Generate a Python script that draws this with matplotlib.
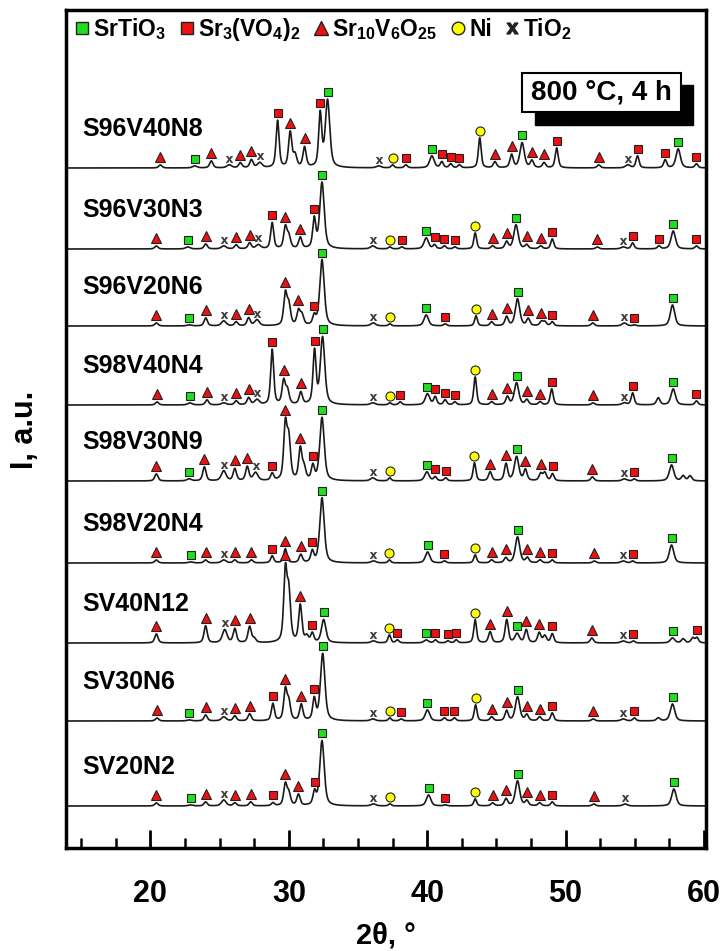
import numpy as np
import matplotlib.pyplot as plt
from matplotlib.lines import Line2D
from matplotlib.patches import Rectangle

plt.rcParams['font.family'] = ['Liberation Sans', 'DejaVu Sans']
plt.rcParams['font.weight'] = 'bold'
plt.rcParams['mathtext.fontset'] = 'custom'
plt.rcParams['mathtext.rm'] = 'Liberation Sans:bold'
plt.rcParams['mathtext.it'] = 'Liberation Sans:bold'
plt.rcParams['mathtext.bf'] = 'Liberation Sans:bold'

# phases: G SrTiO3, R Sr3(VO4)2, T Sr10V6O25, N Ni, X TiO2, '' = unlabelled
samples = ['S96V40N8', 'S96V30N3', 'S96V20N6', 'S98V40N4', 'S98V30N9',
           'S98V20N4', 'SV40N12', 'SV30N6', 'SV20N2']
offsets = [680, 599, 522, 443, 367, 285, 205, 127, 42]

# (2theta, peak height, phase)
peaks_S96V40N8 = [(20.72, 3, 'T'), (23.2, 2, 'G'), (24.4, 7, 'T'), (25.7, 3, 'X'), (26.5, 5, 'T'),
                  (27.3, 8, 'T'), (27.9, 5, 'X'), (29.19, 47, 'R'), (30.1, 35, 'T'), (30.45, 12, ''),
                  (31.14, 20, 'T'), (32.27, 53, 'R'), (32.8, 67, 'G'), (36.5, 2, 'X'), (37.5, 3, 'N'),
                  (38.46, 3, 'R'), (40.34, 12, 'G'), (41.06, 6, 'R'), (41.7, 4, 'R'), (42.33, 3, 'R'),
                  (43.8, 30, 'N'), (44.9, 6, 'T'), (46.1, 13, 'T'), (46.86, 25, 'G'), (47.57, 7, 'T'),
                  (48.45, 5, 'T'), (49.36, 20, 'R'), (52.4, 3, 'T'), (54.5, 3, 'X'), (55.2, 12, 'R'),
                  (57.2, 8, 'R'), (58.14, 19, 'G'), (59.46, 4, 'R')]
peaks_S96V30N3 = [(20.43, 3, 'T'), (22.7, 2, 'G'), (24.0, 5, 'T'), (25.3, 3, 'X'), (26.2, 4, 'T'),
                  (27.17, 6, 'T'), (27.8, 4, 'X'), (28.8, 26, 'R'), (29.75, 21, 'T'), (30.0, 12, ''),
                  (30.83, 11, 'T'), (31.84, 29, 'R'), (32.4, 66, 'G'), (36.07, 3, 'X'), (37.3, 2, 'N'),
                  (38.17, 2, 'R'), (39.93, 11, 'G'), (40.53, 4, 'R'), (41.25, 3, 'R'), (42.0, 2, 'R'),
                  (43.47, 16, 'N'), (44.73, 3, 'T'), (45.74, 7, 'T'), (46.42, 24, 'G'), (47.19, 4, 'T'),
                  (48.2, 3, 'T'), (49.04, 10, 'R'), (52.3, 2, 'T'), (54.17, 2, 'X'), (54.85, 6, 'R'),
                  (56.75, 3, 'R'), (57.78, 18, 'G'), (59.46, 3, 'R')]
peaks_S96V20N6 = [(20.43, 3, 'T'), (22.8, 1, 'G'), (24.0, 8, 'T'), (25.3, 5, 'X'), (26.2, 4, 'T'),
                  (27.1, 8, 'T'), (27.7, 6, 'X'), (29.75, 31, 'T'), (30.0, 20, ''), (30.7, 14, 'T'),
                  (30.95, 10, ''), (31.84, 9, 'R'), (32.4, 66, 'G'), (36.1, 3, 'X'), (37.3, 2, 'N'),
                  (39.93, 11, 'G'), (41.3, 2, 'R'), (43.53, 10, 'N'), (44.66, 4, 'T'), (45.74, 9, 'T'),
                  (46.53, 27, 'G'), (47.3, 7, 'T'), (48.25, 4, 'T'), (48.5, 4, ''), (49.04, 4, 'R'),
                  (51.96, 3, 'T'), (54.25, 3, 'X'), (54.97, 1, 'R'), (57.73, 21, 'G')]
peaks_S98V40N4 = [(20.48, 3, 'T'), (22.85, 2, 'G'), (24.09, 5, 'T'), (25.3, 2, 'X'), (26.2, 4, 'T'),
                  (27.1, 7, 'T'), (27.7, 5, 'X'), (28.8, 55, 'R'), (29.63, 23, 'T'), (29.9, 14, ''),
                  (30.87, 12, 'T'), (31.86, 53, 'R'), (32.44, 67, 'G'), (36.07, 2, 'X'), (37.3, 2, 'N'),
                  (38.05, 3, 'R'), (40.02, 11, 'G'), (40.58, 8, 'R'), (41.3, 5, 'R'), (42.0, 3, 'R'),
                  (43.47, 28, 'N'), (44.66, 3, 'T'), (45.8, 8, 'T'), (46.46, 22, 'G'), (47.2, 5, 'T'),
                  (48.16, 3, 'T'), (49.0, 16, 'R'), (51.98, 2, 'T'), (54.25, 2, 'X'), (54.85, 12, 'R'),
                  (56.7, 7, ''), (57.78, 16, 'G'), (59.46, 4, 'R')]
peaks_S98V30N9 = [(20.43, 7, 'T'), (22.8, 2, 'G'), (23.9, 14, 'T'), (25.3, 10, 'X'), (26.1, 12, 'T'),
                  (27.0, 14, 'T'), (27.6, 8, 'X'), (28.8, 7, 'R'), (29.75, 54, 'T'), (30.0, 40, ''),
                  (30.83, 31, 'T'), (31.1, 12, ''), (31.74, 14, 'R'), (32.4, 63, 'G'), (36.07, 3, 'X'),
                  (37.3, 3, 'N'), (39.98, 9, 'G'), (40.58, 4, 'R'), (41.34, 3, 'R'), (43.42, 18, 'N'),
                  (44.55, 9, 'T'), (45.7, 17, 'T'), (46.46, 24, 'G'), (47.1, 11, 'T'), (48.2, 7, 'T'),
                  (48.5, 8, ''), (49.06, 7, 'R'), (51.94, 4, 'T'), (54.25, 2, 'X'), (54.97, 2, 'R'),
                  (57.66, 16, 'G'), (58.5, 5, ''), (59.0, 5, '')]
peaks_S98V20N4 = [(20.43, 3, 'T'), (22.9, 1, 'G'), (23.99, 3, 'T'), (25.3, 3, 'X'), (26.1, 3, 'T'),
                  (27.3, 3, 'T'), (28.8, 7, 'R'), (29.75, 14, 'T'), (30.87, 8, 'T'), (31.7, 11, 'R'),
                  (32.4, 65, 'G'), (36.12, 2, 'X'), (37.27, 3, 'N'), (40.03, 11, 'G'), (41.25, 2, 'R'),
                  (43.47, 8, 'N'), (44.66, 3, 'T'), (45.68, 5, 'T'), (46.53, 26, 'G'), (47.24, 5, 'T'),
                  (48.16, 3, 'T'), (49.04, 3, 'R'), (52.08, 2, 'T'), (54.17, 2, 'X'), (54.85, 2, 'R'),
                  (57.66, 18, 'G')]
peaks_SV40N12 = [(20.43, 9, 'T'), (23.99, 17, 'T'), (25.37, 13, 'X'), (26.1, 14, 'T'), (27.17, 16, 'T'),
                 (27.5, 4, ''), (29.75, 69, 'T'), (30.0, 48, ''), (30.83, 37, 'T'), (31.3, 6, ''),
                 (31.7, 9, 'R'), (32.52, 23, 'G'), (36.12, 2, 'X'), (37.27, 8, 'N'), (37.85, 3, 'R'),
                 (39.93, 3, 'G'), (40.6, 3, 'R'), (41.5, 2, 'R'), (42.1, 3, 'R'), (43.47, 23, 'N'),
                 (44.55, 11, 'T'), (45.75, 23, 'T'), (46.5, 9, 'G'), (47.16, 13, 'T'), (48.1, 10, 'T'),
                 (48.5, 7, ''), (49.04, 9, 'R'), (51.9, 5, 'T'), (54.17, 2, 'X'), (54.9, 2, 'R'),
                 (57.73, 5, 'G'), (58.5, 4, ''), (59.2, 5, ''), (59.5, 5, 'R')]
peaks_SV30N6 = [(20.48, 3, 'T'), (22.8, 1, 'G'), (23.99, 6, 'T'), (25.3, 4, 'X'), (26.1, 5, 'T'),
                (27.17, 7, 'T'), (28.85, 17, 'R'), (29.75, 30, 'T'), (30.0, 18, ''), (30.9, 16, 'T'),
                (31.84, 21, 'R'), (32.45, 67, 'G'), (36.07, 2, 'X'), (37.3, 3, 'N'), (38.12, 2, 'R'),
                (40.02, 11, 'G'), (41.25, 3, 'R'), (41.97, 3, 'R'), (43.5, 16, 'N'), (44.66, 4, 'T'),
                (45.74, 10, 'T'), (46.53, 24, 'G'), (47.2, 6, 'T'), (48.13, 4, 'T'), (49.04, 8, 'R'),
                (52.0, 2, 'T'), (54.17, 2, 'X'), (54.97, 3, 'R'), (56.7, 3, ''), (57.73, 17, 'G')]
peaks_SV20N2 = [(20.43, 3, 'T'), (22.9, 1, 'G'), (23.99, 4, 'T'), (25.3, 6, 'X'), (26.1, 3, 'T'),
                (27.25, 4, 'T'), (28.85, 3, 'R'), (29.75, 21, 'T'), (30.0, 12, ''), (30.7, 11, 'T'),
                (31.86, 13, 'R'), (32.4, 65, 'G'), (36.12, 2, 'X'), (37.3, 2, 'N'), (40.1, 11, 'G'),
                (41.3, 1, 'R'), (43.47, 7, 'N'), (44.73, 3, 'T'), (45.7, 7, 'T'), (46.53, 25, 'G'),
                (47.2, 5, 'T'), (48.13, 3, 'T'), (49.04, 4, 'R'), (52.04, 2, 'T'), (54.3, 2, 'X'),
                (57.83, 17, 'G')]

all_peaks = [peaks_S96V40N8, peaks_S96V30N3, peaks_S96V20N6, peaks_S98V40N4, peaks_S98V30N9,
             peaks_S98V20N4, peaks_SV40N12, peaks_SV30N6, peaks_SV20N2]

phase_order = ['G', 'R', 'T', 'N', 'X']
phase_names = {'G': 'SrTiO$_3$', 'R': 'Sr$_3$(VO$_4$)$_2$', 'T': 'Sr$_{10}$V$_6$O$_{25}$',
               'N': 'Ni', 'X': 'TiO$_2$'}
style = {'G': dict(marker='s', mfc='#1fe01f', ms=6, gap=7, w=0.38),
         'R': dict(marker='s', mfc='#ee1111', ms=6, gap=7, w=0.26),
         'T': dict(marker='^', mfc='#ee1111', ms=7.5, gap=8, w=0.28),
         'N': dict(marker='o', mfc='#ffff00', ms=6.5, gap=7, w=0.24),
         'X': dict(marker=r'$\mathrm{x}$', mfc='#333333', ms=5, gap=6, w=0.4),
         '': dict(w=0.3)}


def profile(x, peaks):
    y = np.zeros_like(x)
    for p, h, ph in peaks:
        d = (x - p) / (style[ph]['w'] / 2)
        y += h * (0.55 / (1 + d ** 2) + 0.45 * np.exp(-np.log(2) * d ** 2))
    return y


fig = plt.figure(figsize=(7.24, 9.51), dpi=100)
ax = fig.add_axes([66 / 724, 103 / 951, 640 / 724, 838 / 951])

x = np.linspace(13.9, 60.2, 5000)
for name, off, peaks in zip(samples, offsets, all_peaks):
    ax.plot(x, off + profile(x, peaks), color='#1a1a1a', lw=1.2)
    ax.text(15.1, off + 39, name, fontsize=18, va='center', ha='left')
    for p, h, ph in peaks:
        if not ph:
            continue
        st = style[ph]
        yy = off + profile(np.array([p]), peaks)[0] + st['gap']
        if ph == 'X':
            ax.plot(p, yy, marker=st['marker'], color=st['mfc'], ms=st['ms'], mew=0.2)
        else:
            ax.plot(p, yy, marker=st['marker'], mfc=st['mfc'], mec='#222222', mew=0.8,
                    ms=st['ms'], ls='none')

# legend row
handles = []
for ph in phase_order:
    st = style[ph]
    if ph == 'X':
        handles.append(Line2D([], [], ls='none', marker=st['marker'], color='#222222', ms=8))
    else:
        handles.append(Line2D([], [], ls='none', marker=st['marker'], mfc=st['mfc'],
                              mec='#222222', mew=1.0, ms=st['ms'] * 1.4))
ax.legend(handles, [phase_names[p] for p in phase_order], loc='upper left',
          ncol=5, frameon=False, handlelength=0.6, handletextpad=0.18,
          columnspacing=0.6, borderaxespad=0.0, borderpad=0.25, bbox_to_anchor=(0.006, 1.0),
          prop={'weight': 'bold', 'size': 16.5})

# 800 C box with shadow
fig.patches.append(Rectangle((535 / 724, 1 - 125 / 951), 158 / 724, 40 / 951,
                             transform=fig.transFigure, fc='black', ec='black', zorder=5))
fig.patches.append(Rectangle((522 / 724, 1 - 112 / 951), 159 / 724, 39 / 951,
                             transform=fig.transFigure, fc='white', ec='black', lw=1.5, zorder=6))
fig.text(601.5 / 724, 1 - 92.5 / 951, '800 °C, 4 h', fontsize=20, ha='center', va='center',
         zorder=7)

ax.set_xlim(13.9, 60.15)
ax.set_ylim(0, 838)
ax.set_xticks([20, 30, 40, 50, 60])
ax.set_xticks(np.arange(15, 60.1, 2.5), minor=True)
ax.set_yticks([])
ax.tick_params(axis='x', which='major', direction='in', length=13, width=2, labelsize=22, pad=22)
ax.tick_params(axis='x', which='minor', direction='in', length=7.5, width=1.8)
for s in ax.spines.values():
    s.set_linewidth(2.5)

fig.text(386 / 724, 1 - 935 / 951, '2θ, °', fontsize=21, ha='center', va='center')
fig.text(25 / 724, 1 - 430 / 951, 'I, a.u.', fontsize=22, ha='center', va='center', rotation=90)

fig.savefig('out.png', dpi=100)
